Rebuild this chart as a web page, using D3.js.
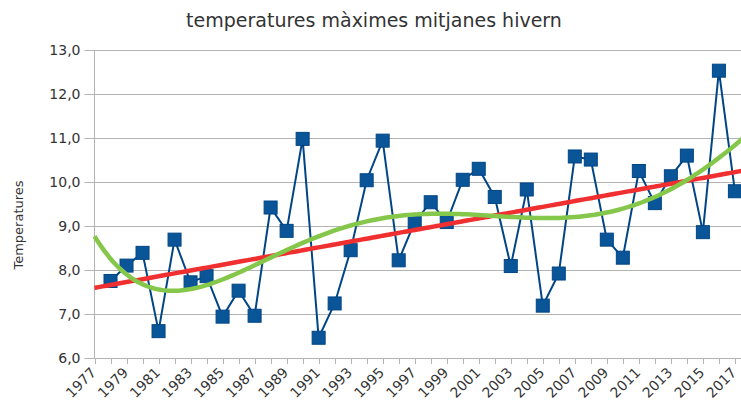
<!DOCTYPE html>
<html>
<head>
<meta charset="utf-8">
<script src="https://cdn.jsdelivr.net/npm/d3@7"></script>
<style>
body { margin: 0; background: #fff; }
text { font-family: "DejaVu Sans", sans-serif; fill: #333; }
</style>
</head>
<body>
<svg id="vis"></svg>
<script>
var years = d3.range(1978, 2018);
var temps = [7.75, 8.10, 8.39, 6.61, 8.69, 7.72, 7.86, 6.94, 7.53, 6.96,
             9.42, 8.89, 10.98, 6.46, 7.24, 8.45, 10.04, 10.94, 8.22, 9.09,
             9.54, 9.09, 10.05, 10.30, 9.66, 8.09, 9.83, 7.19, 7.92, 10.58,
             10.51, 8.69, 8.28, 10.25, 9.52, 10.13, 10.60, 8.86, 12.53, 9.79];
var yTicks = [6, 7, 8, 9, 10, 11, 12, 13];
var xTickYears = d3.range(1977, 2019);
var xLabelYears = d3.range(1977, 2018, 2);

var data = years.map(function (y, i) { return {year: y, temp: temps[i]}; });

var width = 741, height = 403;
var margin = {top: 50, left: 94.5, bottom: 45};

var svg = d3.select("#vis")
    .attr("width", width)
    .attr("height", height);

var xScale = d3.scaleLinear()
    .domain([1977, 2018])
    .range([margin.left, margin.left + 41 * 16.01]);

var yScale = d3.scaleLinear()
    .domain([6, 13])
    .range([358, 50]);

// least squares polynomial fit, x centered for stability
function polyFit(points, degree) {
    var n = degree + 1;
    var A = [], b = [];
    for (var i = 0; i < n; i++) {
        A.push(new Array(n).fill(0));
        b.push(0);
    }
    points.forEach(function (p) {
        var t = (p.year - 1997) / 20;
        for (var r = 0; r < n; r++) {
            b[r] += p.temp * Math.pow(t, r);
            for (var c = 0; c < n; c++) {
                A[r][c] += Math.pow(t, r + c);
            }
        }
    });
    for (var k = 0; k < n; k++) {
        var piv = k;
        for (var r2 = k + 1; r2 < n; r2++) {
            if (Math.abs(A[r2][k]) > Math.abs(A[piv][k])) piv = r2;
        }
        var tmp = A[k]; A[k] = A[piv]; A[piv] = tmp;
        var tb = b[k]; b[k] = b[piv]; b[piv] = tb;
        for (var r3 = k + 1; r3 < n; r3++) {
            var f = A[r3][k] / A[k][k];
            for (var c2 = k; c2 < n; c2++) A[r3][c2] -= f * A[k][c2];
            b[r3] -= f * b[k];
        }
    }
    var coef = new Array(n).fill(0);
    for (var r4 = n - 1; r4 >= 0; r4--) {
        var s = b[r4];
        for (var c3 = r4 + 1; c3 < n; c3++) s -= A[r4][c3] * coef[c3];
        coef[r4] = s / A[r4][r4];
    }
    return function (year) {
        var t = (year - 1997) / 20, v = 0;
        for (var j = 0; j < n; j++) v += coef[j] * Math.pow(t, j);
        return v;
    };
}

// gridlines
svg.append("g")
    .selectAll("line")
    .data(yTicks)
    .enter().append("line")
    .attr("x1", margin.left - 10)
    .attr("x2", width)
    .attr("y1", function (d) { return Math.round(yScale(d)) + 0.5; })
    .attr("y2", function (d) { return Math.round(yScale(d)) + 0.5; })
    .style("stroke", "#b3b3b3")
    .style("stroke-width", 1);

// y axis line
svg.append("line")
    .attr("x1", margin.left).attr("x2", margin.left)
    .attr("y1", yScale(13)).attr("y2", yScale(6))
    .style("stroke", "#b3b3b3");

// y tick labels
svg.append("g")
    .selectAll("text")
    .data(yTicks)
    .enter().append("text")
    .attr("x", margin.left - 14)
    .attr("y", function (d) { return yScale(d); })
    .attr("dy", "0.35em")
    .style("text-anchor", "end")
    .style("font-size", "14px")
    .text(function (d) { return d.toFixed(1).replace(".", ","); });

// x ticks
svg.append("g")
    .selectAll("line")
    .data(xTickYears)
    .enter().append("line")
    .attr("x1", function (d) { return Math.round(xScale(d)) + 0.5; })
    .attr("x2", function (d) { return Math.round(xScale(d)) + 0.5; })
    .attr("y1", yScale(6))
    .attr("y2", yScale(6) + 6)
    .style("stroke", "#b3b3b3");

svg.append("g")
    .selectAll("text")
    .data(xLabelYears)
    .enter().append("text")
    .attr("transform", function (d) {
        return "translate(" + (xScale(d) - 1) + "," + (yScale(6) + 12) + ") rotate(-45)";
    })
    .attr("dy", "0.35em")
    .style("text-anchor", "end")
    .style("font-size", "14px")
    .text(function (d) { return d; });

// title
svg.append("text")
    .attr("x", 374)
    .attr("y", 27)
    .style("text-anchor", "middle")
    .style("font-size", "19px")
    .text("temperatures màximes mitjanes hivern");

svg.append("text")
    .attr("transform", "translate(23,225) rotate(-90)")
    .style("text-anchor", "middle")
    .style("font-size", "13px")
    .text("Temperatures");

// data series
var line = d3.line()
    .x(function (d) { return xScale(d.year); })
    .y(function (d) { return yScale(d.temp); });

svg.append("path")
    .datum(data)
    .attr("d", line)
    .style("fill", "none")
    .style("stroke", "#004586")
    .style("stroke-width", 2);

svg.selectAll(".dot")
    .data(data)
    .enter().append("rect")
    .attr("class", "dot")
    .attr("x", function (d) { return xScale(d.year) - 6.5; })
    .attr("y", function (d) { return yScale(d.temp) - 6.5; })
    .attr("width", 13)
    .attr("height", 13)
    .style("fill", "#0a5597")
    .style("stroke", "#004586")
    .style("stroke-width", 1);

// trend lines
var trendYears = d3.range(1977, 2018.01, 0.25);
var linFit = polyFit(data, 1);
var polyTrend = polyFit(data, 5);

var trendLine = function (fn) {
    return d3.line()
        .x(function (d) { return xScale(d); })
        .y(function (d) { return yScale(fn(d)); })
        .curve(d3.curveBasis);
};

svg.append("path")
    .datum(trendYears)
    .attr("d", trendLine(linFit))
    .style("fill", "none")
    .style("stroke", "#f03030")
    .style("stroke-width", 4.5);

svg.append("path")
    .datum(trendYears)
    .attr("d", trendLine(polyTrend))
    .style("fill", "none")
    .style("stroke", "#85c74a")
    .style("stroke-width", 4.5);
</script>
</body>
</html>
